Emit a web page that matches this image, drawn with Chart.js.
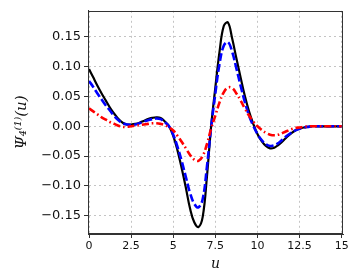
<!DOCTYPE html>
<html>
<head>
<meta charset="utf-8">
<script src="https://cdn.jsdelivr.net/npm/chart.js@4.4.1/dist/chart.umd.min.js"></script>
<style>
html,body{margin:0;padding:0;background:#fff;}
#wrap{width:354px;height:273px;position:relative;}
</style>
</head>
<body>
<div id="wrap"><canvas id="c" width="354" height="273"></canvas></div>
<script>
// ---- data ----
const uValues = [0,0.25,0.5,0.75,1,1.25,1.5,1.75,2,2.25,2.5,2.75,3,3.25,3.5,3.75,4,4.25,4.5,4.75,5,5.25,5.5,5.75,6,6.25,6.5,6.75,7,7.25,7.5,7.75,8,8.25,8.5,8.75,9,9.25,9.5,9.75,10,10.25,10.5,10.75,11,11.25,11.5,11.75,12,12.25,12.5,12.75,13,13.25,13.5,13.75,14,14.25,14.5,14.75,15];
const blackSeries = [0.096,0.082,0.068,0.055,0.043,0.031,0.021,0.012,0.006,0.003,0.003,0.004,0.006,0.009,0.012,0.014,0.015,0.014,0.008,0.000,-0.016,-0.040,-0.070,-0.103,-0.138,-0.161,-0.169,-0.152,-0.085,0.000,0.065,0.125,0.168,0.174,0.147,0.114,0.082,0.051,0.025,0.004,-0.013,-0.025,-0.033,-0.037,-0.036,-0.031,-0.025,-0.018,-0.012,-0.007,-0.004,-0.002,-0.001,0,0,0,0,0,0,0,0];
const blueSeries = [0.076,0.066,0.055,0.045,0.035,0.026,0.017,0.010,0.005,0.003,0.002,0.003,0.005,0.008,0.010,0.012,0.013,0.012,0.007,0.000,-0.014,-0.034,-0.058,-0.085,-0.112,-0.130,-0.136,-0.122,-0.068,-0.002,0.055,0.105,0.135,0.141,0.125,0.097,0.068,0.041,0.018,0.001,-0.013,-0.023,-0.030,-0.033,-0.032,-0.028,-0.022,-0.016,-0.011,-0.007,-0.004,-0.002,-0.001,0,0,0,0,0,0,0,0];
const redSeries = [0.030,0.025,0.020,0.015,0.011,0.007,0.004,0.001,-0.001,-0.001,0.000,0.001,0.002,0.003,0.004,0.005,0.005,0.004,0.002,-0.002,-0.007,-0.016,-0.026,-0.037,-0.048,-0.056,-0.058,-0.050,-0.030,-0.004,0.018,0.040,0.057,0.065,0.064,0.055,0.043,0.030,0.018,0.008,0.000,-0.006,-0.011,-0.014,-0.015,-0.014,-0.011,-0.008,-0.005,-0.003,-0.002,-0.001,0,0,0,0,0,0,0,0,0];
const xTickValues = [0,2.5,5,7.5,10,12.5,15];
const xTickLabels = ["0","2.5","5","7.5","10","12.5","15"];
const yTickValues = [-0.15,-0.10,-0.05,0,0.05,0.10,0.15];
const yTickLabels = ["\u22120.15","\u22120.10","\u22120.05","0.00","0.05","0.10","0.15"];
const xAxisTitle = "u";
const yAxisTitle = "\u03A8\u2084\u207D\u00B9\u207E(u)";

const toPts = arr => uValues.map((u,i)=>({x:u,y:arr[i]}));

const boxPlugin = {
  id:'box',
  afterDraw(chart){
    const a = chart.chartArea, ctx = chart.ctx;
    ctx.save();
    ctx.strokeStyle = '#333';
    ctx.lineWidth = 1;
    ctx.strokeRect(Math.round(a.left)+0.5, Math.round(a.top)+0.5, Math.round(a.right-a.left)-1, Math.round(a.bottom-a.top)-1);
    ctx.restore();
  }
};

new Chart(document.getElementById('c'), {
  type:'line',
  data:{
    datasets:[
      {data:toPts(blackSeries), borderColor:'#000000', borderWidth:2.2, pointRadius:0, tension:0.4, order:3},
      {data:toPts(blueSeries), borderColor:'#0000ff', borderWidth:2.6, borderDash:[8,3], pointRadius:0, tension:0.4, order:2},
      {data:toPts(redSeries), borderColor:'#ff0000', borderWidth:2.6, borderDash:[7,3,1.5,3], pointRadius:0, tension:0.4, order:1}
    ]
  },
  options:{
    responsive:false,
    animation:false,
    layout:{padding:{top:5,right:11,left:13,bottom:0}},
    plugins:{legend:{display:false},tooltip:{enabled:false}},
    scales:{
      x:{
        type:'linear', min:-0.06, max:15.08,
        afterBuildTicks(s){ s.ticks = xTickValues.map(v=>({value:v})); },
        afterFit(s){ s.height = 39; },
        ticks:{ callback:(v)=>{const i=xTickValues.indexOf(v); return i>=0?xTickLabels[i]:'';}, color:'#111', font:{family:'DejaVu Sans',size:11}, padding:2, maxRotation:0, autoSkip:false },
        grid:{ color:'#c4c4c4', lineWidth:1, tickColor:'#333', tickLength:4, tickWidth:1, tickBorderDash:[] },
        border:{ display:true, color:'#333', width:1, dash:[2,3] },
        title:{ display:true, text:xAxisTitle, color:'#111', font:{family:'DejaVu Serif',size:14,style:'italic'}, padding:{top:-3,bottom:0} }
      },
      y:{
        type:'linear', min:-0.1806, max:0.1936,
        afterBuildTicks(s){ s.ticks = yTickValues.map(v=>({value:v})); },
        afterFit(s){ s.width = 75; },
        ticks:{ callback:(v)=>{let i=yTickValues.findIndex(t=>Math.abs(t-v)<1e-9); return i>=0?yTickLabels[i]:'';}, color:'#111', font:{family:'DejaVu Sans',size:13}, padding:3, autoSkip:false },
        grid:{ color:'#c4c4c4', lineWidth:1, tickColor:'#333', tickLength:4, tickWidth:1, tickBorderDash:[] },
        border:{ display:true, color:'#333', width:1, dash:[2,3] },
        title:{ display:true, text:yAxisTitle, color:'#111', font:{family:'DejaVu Serif',size:15,style:'italic'}, padding:{top:0,bottom:4} }
      }
    }
  },
  plugins:[boxPlugin]
});
</script>
</body>
</html>
